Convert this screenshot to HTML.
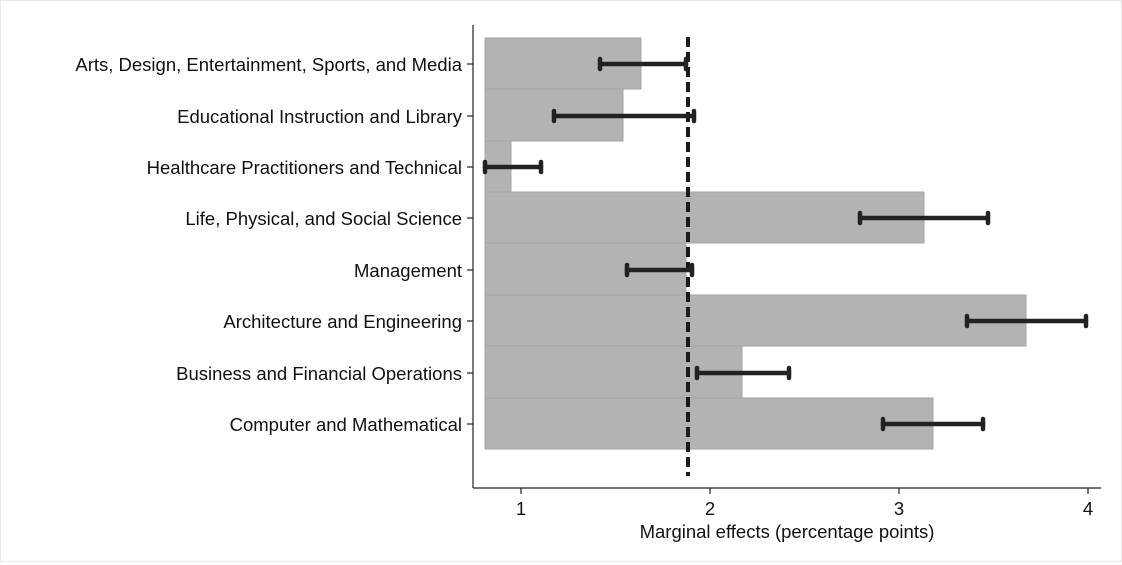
<!DOCTYPE html>
<html><head><style>body{margin:0;background:#fff}svg{display:block}text{font-family:"Liberation Sans",Arial,sans-serif;fill:#111}</style></head>
<body>
<svg width="1122" height="565" viewBox="0 0 1122 565" xmlns="http://www.w3.org/2000/svg">
<rect x="0.5" y="0.5" width="1121" height="561" fill="#fff" stroke="#e8e8e8"/>
<g fill="#b3b3b3" stroke="#a6a6a6" stroke-width="1">
<rect x="485" y="38" width="156" height="51"/>
<rect x="485" y="89" width="138" height="52"/>
<rect x="485" y="141" width="26" height="51"/>
<rect x="485" y="192" width="439" height="51"/>
<rect x="485" y="243" width="201" height="52"/>
<rect x="485" y="295" width="541" height="51"/>
<rect x="485" y="346" width="257" height="52"/>
<rect x="485" y="398" width="448" height="51"/>
</g>
<line x1="688" y1="37" x2="688" y2="476" stroke="#1a1a1a" stroke-width="4" stroke-dasharray="10,5"/>
<g stroke="#222" stroke-width="4.5" stroke-linecap="round">
<line x1="600" y1="64" x2="686" y2="64"/><line x1="600" y1="59" x2="600" y2="69"/><line x1="686" y1="59" x2="686" y2="69"/>
<line x1="554" y1="116" x2="694" y2="116"/><line x1="554" y1="111" x2="554" y2="121"/><line x1="694" y1="111" x2="694" y2="121"/>
<line x1="485" y1="167" x2="541" y2="167"/><line x1="485" y1="162" x2="485" y2="172"/><line x1="541" y1="162" x2="541" y2="172"/>
<line x1="860" y1="218" x2="988" y2="218"/><line x1="860" y1="213" x2="860" y2="223"/><line x1="988" y1="213" x2="988" y2="223"/>
<line x1="627" y1="270" x2="692" y2="270"/><line x1="627" y1="265" x2="627" y2="275"/><line x1="692" y1="265" x2="692" y2="275"/>
<line x1="967" y1="321" x2="1086" y2="321"/><line x1="967" y1="316" x2="967" y2="326"/><line x1="1086" y1="316" x2="1086" y2="326"/>
<line x1="697" y1="373" x2="789" y2="373"/><line x1="697" y1="368" x2="697" y2="378"/><line x1="789" y1="368" x2="789" y2="378"/>
<line x1="883" y1="424" x2="983" y2="424"/><line x1="883" y1="419" x2="883" y2="429"/><line x1="983" y1="419" x2="983" y2="429"/>
</g>
<g stroke="#222" stroke-width="1.2">
<line x1="473" y1="25" x2="473" y2="488"/>
<line x1="473" y1="488" x2="1101" y2="488"/>
<line x1="521" y1="488" x2="521" y2="494"/><line x1="710" y1="488" x2="710" y2="494"/><line x1="899" y1="488" x2="899" y2="494"/><line x1="1088" y1="488" x2="1088" y2="494"/>
<line x1="467" y1="64" x2="473" y2="64"/><line x1="467" y1="116" x2="473" y2="116"/><line x1="467" y1="167" x2="473" y2="167"/><line x1="467" y1="218" x2="473" y2="218"/><line x1="467" y1="270" x2="473" y2="270"/><line x1="467" y1="321" x2="473" y2="321"/><line x1="467" y1="373" x2="473" y2="373"/><line x1="467" y1="424" x2="473" y2="424"/>
</g>
<g font-size="18.5" text-anchor="end">
<text x="462" y="71">Arts, Design, Entertainment, Sports, and Media</text>
<text x="462" y="123">Educational Instruction and Library</text>
<text x="462" y="174">Healthcare Practitioners and Technical</text>
<text x="462" y="225">Life, Physical, and Social Science</text>
<text x="462" y="277">Management</text>
<text x="462" y="328">Architecture and Engineering</text>
<text x="462" y="380">Business and Financial Operations</text>
<text x="462" y="431">Computer and Mathematical</text>
</g>
<g font-size="18.5" text-anchor="middle">
<text x="521" y="515">1</text><text x="710" y="515">2</text><text x="899" y="515">3</text><text x="1088" y="515">4</text>
<text x="787" y="538">Marginal effects (percentage points)</text>
</g>
</svg>
</body></html>
